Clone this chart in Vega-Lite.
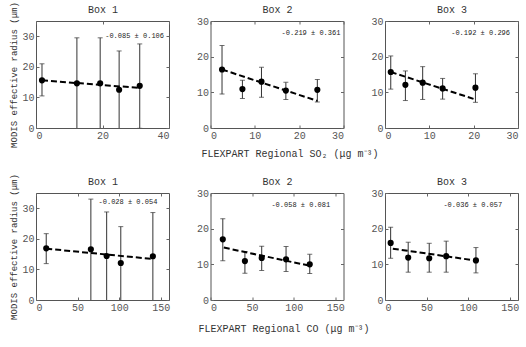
{
"$schema":"https://vega.github.io/schema/vega-lite/v6.json",
"background":"white",
"padding":{"left":9,"top":1,"right":3,"bottom":3},
"spacing":14,
"datasets":{
"pts":[
{"p":"s1","x":1.8,"y":15.6,"lo":10.5,"hi":21.0},
{"p":"s1","x":12.3,"y":14.6,"lo":-0.3,"hi":29.5},
{"p":"s1","x":19.3,"y":14.6,"lo":-0.3,"hi":29.5},
{"p":"s1","x":25.0,"y":12.5,"lo":-0.2,"hi":25.2},
{"p":"s1","x":31.2,"y":13.8,"lo":-0.1,"hi":27.5},
{"p":"s2","x":2.6,"y":16.4,"lo":9.5,"hi":23.1},
{"p":"s2","x":7.2,"y":10.9,"lo":8.3,"hi":13.4},
{"p":"s2","x":11.5,"y":13.0,"lo":8.6,"hi":17.0},
{"p":"s2","x":17.0,"y":10.5,"lo":8.0,"hi":12.8},
{"p":"s2","x":24.1,"y":10.7,"lo":7.3,"hi":13.6},
{"p":"s3","x":1.3,"y":15.7,"lo":10.9,"hi":20.2},
{"p":"s3","x":4.6,"y":12.1,"lo":7.7,"hi":16.0},
{"p":"s3","x":8.5,"y":12.7,"lo":8.0,"hi":17.2},
{"p":"s3","x":13.0,"y":11.1,"lo":8.1,"hi":13.9},
{"p":"s3","x":20.4,"y":11.3,"lo":7.2,"hi":15.2},
{"p":"c1","x":12.3,"y":16.9,"lo":11.9,"hi":21.7},
{"p":"c1","x":66.0,"y":16.6,"lo":-0.2,"hi":33.0},
{"p":"c1","x":85.0,"y":14.4,"lo":-0.2,"hi":28.8},
{"p":"c1","x":102.0,"y":12.1,"lo":-0.2,"hi":24.0},
{"p":"c1","x":140.6,"y":14.3,"lo":-0.2,"hi":28.6},
{"p":"c2","x":14.8,"y":17.0,"lo":11.0,"hi":22.8},
{"p":"c2","x":41.4,"y":10.9,"lo":7.5,"hi":13.6},
{"p":"c2","x":61.6,"y":11.8,"lo":8.3,"hi":15.1},
{"p":"c2","x":90.9,"y":11.4,"lo":8.0,"hi":15.0},
{"p":"c2","x":119.4,"y":10.0,"lo":7.4,"hi":12.8},
{"p":"c3","x":6.8,"y":16.0,"lo":11.7,"hi":20.4},
{"p":"c3","x":27.9,"y":11.9,"lo":7.8,"hi":16.2},
{"p":"c3","x":53.2,"y":11.7,"lo":7.8,"hi":15.9},
{"p":"c3","x":73.6,"y":12.3,"lo":7.8,"hi":16.5},
{"p":"c3","x":109.4,"y":11.1,"lo":7.6,"hi":14.7}
],
"fit":[
{"p":"s1","x":1.8,"y":15.6},{"p":"s1","x":31.2,"y":13.1},
{"p":"s2","x":2.6,"y":16.4},{"p":"s2","x":24.1,"y":7.6},
{"p":"s3","x":1.3,"y":15.7},{"p":"s3","x":20.4,"y":8.0},
{"p":"c1","x":12.3,"y":16.8},{"p":"c1","x":140.6,"y":13.4},
{"p":"c2","x":16.0,"y":14.7},{"p":"c2","x":119.4,"y":9.6},
{"p":"c3","x":9.4,"y":14.4},{"p":"c3","x":111.0,"y":11.0}
],
"ann":[
{"p":"s1","t":"-0.085 ± 0.106"},
{"p":"s2","t":"-0.219 ± 0.361"},
{"p":"s3","t":"-0.192 ± 0.296"},
{"p":"c1","t":"-0.028 ± 0.054"},
{"p":"c2","t":"-0.058 ± 0.081"},
{"p":"c3","t":"-0.036 ± 0.057"}
]
},
"config":{
"font":"Liberation Mono",
"view":{"stroke":"#555","strokeWidth":1},
"axis":{"labelFont":"Liberation Mono","labelFontSize":10,"labelColor":"#555","labelOverlap":false,"titleFont":"Liberation Mono","titleFontSize":10,"titleFontWeight":"normal","titleColor":"#333","domain":false,"grid":false,"tickSize":-3,"tickColor":"#666","labelPadding":5},
"axisTop":{"titleFontSize":10,"titlePadding":6,"labels":false},
"axisRight":{"labels":false}
},
"vconcat":[
{"bounds":"flush","spacing":41.5,"hconcat":[
{"width":133,"height":107,"resolve":{"axis":{"x":"independent","y":"independent"}},"layer":[
{"data":{"name":"pts"},"transform":[{"filter":"datum.p==='s1'"}],"mark":{"type":"rule","color":"#333","strokeWidth":1,"clip":true},"encoding":{"x":{"field":"x","type":"quantitative","scale":{"domain":[0,40]},"axis":{"values":[0,20,40],"title":null}},"y":{"field":"lo","type":"quantitative","scale":{"domain":[0,35]},"axis":{"values":[0,10,20,30],"title":"MODIS effective radius (μm)","titleFontSize":9,"titlePadding":3}},"y2":{"field":"hi"}}},
{"data":{"name":"pts"},"transform":[{"filter":"datum.p==='s1'"},{"fold":["lo","hi"]}],"mark":{"type":"tick","orient":"horizontal","color":"#333","size":5,"thickness":1,"clip":true},"encoding":{"x":{"field":"x","type":"quantitative","axis":{"orient":"top","values":[0,20,40],"title":"Box 1"}},"y":{"field":"value","type":"quantitative","axis":{"orient":"right","values":[0,10,20,30],"title":null}}}},
{"data":{"name":"fit"},"transform":[{"filter":"datum.p==='s1'"}],"mark":{"type":"line","color":"black","strokeWidth":2,"strokeDash":[6,3]},"encoding":{"x":{"field":"x","type":"quantitative","axis":null},"y":{"field":"y","type":"quantitative","axis":null}}},
{"data":{"name":"pts"},"transform":[{"filter":"datum.p==='s1'"}],"mark":{"type":"circle","color":"black","opacity":1,"size":38},"encoding":{"x":{"field":"x","type":"quantitative","axis":null},"y":{"field":"y","type":"quantitative","axis":null}}},
{"data":{"name":"ann"},"transform":[{"filter":"datum.p==='s1'"}],"mark":{"type":"text","align":"right","baseline":"middle","fontSize":7,"color":"#222"},"encoding":{"x":{"datum":38.5,"type":"quantitative","axis":null},"y":{"datum":30,"type":"quantitative","axis":null},"text":{"field":"t"}}}
]},
{"width":133,"height":107,"resolve":{"axis":{"x":"independent","y":"independent"}},"layer":[
{"data":{"name":"pts"},"transform":[{"filter":"datum.p==='s2'"}],"mark":{"type":"rule","color":"#333","strokeWidth":1,"clip":true},"encoding":{"x":{"field":"x","type":"quantitative","scale":{"domain":[0,30]},"axis":{"values":[0,10,20,30],"title":"FLEXPART Regional SO₂ (μg m⁻³)","titlePadding":8,"titleX":79}},"y":{"field":"lo","type":"quantitative","scale":{"domain":[0,30]},"axis":{"values":[0,10,20,30],"title":null}},"y2":{"field":"hi"}}},
{"data":{"name":"pts"},"transform":[{"filter":"datum.p==='s2'"},{"fold":["lo","hi"]}],"mark":{"type":"tick","orient":"horizontal","color":"#333","size":5,"thickness":1,"clip":true},"encoding":{"x":{"field":"x","type":"quantitative","axis":{"orient":"top","values":[0,10,20,30],"title":"Box 2"}},"y":{"field":"value","type":"quantitative","axis":{"orient":"right","values":[0,10,20,30],"title":null}}}},
{"data":{"name":"fit"},"transform":[{"filter":"datum.p==='s2'"}],"mark":{"type":"line","color":"black","strokeWidth":2,"strokeDash":[6,3]},"encoding":{"x":{"field":"x","type":"quantitative","axis":null},"y":{"field":"y","type":"quantitative","axis":null}}},
{"data":{"name":"pts"},"transform":[{"filter":"datum.p==='s2'"}],"mark":{"type":"circle","color":"black","opacity":1,"size":38},"encoding":{"x":{"field":"x","type":"quantitative","axis":null},"y":{"field":"y","type":"quantitative","axis":null}}},
{"data":{"name":"ann"},"transform":[{"filter":"datum.p==='s2'"}],"mark":{"type":"text","align":"right","baseline":"middle","fontSize":7,"color":"#222"},"encoding":{"x":{"datum":29.3,"type":"quantitative","axis":null},"y":{"datum":26.6,"type":"quantitative","axis":null},"text":{"field":"t"}}}
]},
{"width":133,"height":107,"resolve":{"axis":{"x":"independent","y":"independent"}},"layer":[
{"data":{"name":"pts"},"transform":[{"filter":"datum.p==='s3'"}],"mark":{"type":"rule","color":"#333","strokeWidth":1,"clip":true},"encoding":{"x":{"field":"x","type":"quantitative","scale":{"domain":[0,30]},"axis":{"values":[0,10,20,30],"title":null}},"y":{"field":"lo","type":"quantitative","scale":{"domain":[0,30]},"axis":{"values":[0,10,20,30],"title":null}},"y2":{"field":"hi"}}},
{"data":{"name":"pts"},"transform":[{"filter":"datum.p==='s3'"},{"fold":["lo","hi"]}],"mark":{"type":"tick","orient":"horizontal","color":"#333","size":5,"thickness":1,"clip":true},"encoding":{"x":{"field":"x","type":"quantitative","axis":{"orient":"top","values":[0,10,20,30],"title":"Box 3"}},"y":{"field":"value","type":"quantitative","axis":{"orient":"right","values":[0,10,20,30],"title":null}}}},
{"data":{"name":"fit"},"transform":[{"filter":"datum.p==='s3'"}],"mark":{"type":"line","color":"black","strokeWidth":2,"strokeDash":[6,3]},"encoding":{"x":{"field":"x","type":"quantitative","axis":null},"y":{"field":"y","type":"quantitative","axis":null}}},
{"data":{"name":"pts"},"transform":[{"filter":"datum.p==='s3'"}],"mark":{"type":"circle","color":"black","opacity":1,"size":38},"encoding":{"x":{"field":"x","type":"quantitative","axis":null},"y":{"field":"y","type":"quantitative","axis":null}}},
{"data":{"name":"ann"},"transform":[{"filter":"datum.p==='s3'"}],"mark":{"type":"text","align":"right","baseline":"middle","fontSize":7,"color":"#222"},"encoding":{"x":{"datum":28.2,"type":"quantitative","axis":null},"y":{"datum":26.6,"type":"quantitative","axis":null},"text":{"field":"t"}}}
]}
]},
{"bounds":"flush","spacing":41.5,"hconcat":[
{"width":133,"height":107,"resolve":{"axis":{"x":"independent","y":"independent"}},"layer":[
{"data":{"name":"pts"},"transform":[{"filter":"datum.p==='c1'"}],"mark":{"type":"rule","color":"#333","strokeWidth":1,"clip":true},"encoding":{"x":{"field":"x","type":"quantitative","scale":{"domain":[0,150]},"axis":{"values":[0,50,100,150],"title":null}},"y":{"field":"lo","type":"quantitative","scale":{"domain":[0,35]},"axis":{"values":[0,10,20,30],"title":"MODIS effective radius (μm)","titleFontSize":9,"titlePadding":3}},"y2":{"field":"hi"}}},
{"data":{"name":"pts"},"transform":[{"filter":"datum.p==='c1'"},{"fold":["lo","hi"]}],"mark":{"type":"tick","orient":"horizontal","color":"#333","size":5,"thickness":1,"clip":true},"encoding":{"x":{"field":"x","type":"quantitative","axis":{"orient":"top","values":[0,50,100,150],"title":"Box 1"}},"y":{"field":"value","type":"quantitative","axis":{"orient":"right","values":[0,10,20,30],"title":null}}}},
{"data":{"name":"fit"},"transform":[{"filter":"datum.p==='c1'"}],"mark":{"type":"line","color":"black","strokeWidth":2,"strokeDash":[6,3]},"encoding":{"x":{"field":"x","type":"quantitative","axis":null},"y":{"field":"y","type":"quantitative","axis":null}}},
{"data":{"name":"pts"},"transform":[{"filter":"datum.p==='c1'"}],"mark":{"type":"circle","color":"black","opacity":1,"size":38},"encoding":{"x":{"field":"x","type":"quantitative","axis":null},"y":{"field":"y","type":"quantitative","axis":null}}},
{"data":{"name":"ann"},"transform":[{"filter":"datum.p==='c1'"}],"mark":{"type":"text","align":"right","baseline":"middle","fontSize":7,"color":"#222"},"encoding":{"x":{"datum":146,"type":"quantitative","axis":null},"y":{"datum":32,"type":"quantitative","axis":null},"text":{"field":"t"}}}
]},
{"width":133,"height":107,"resolve":{"axis":{"x":"independent","y":"independent"}},"layer":[
{"data":{"name":"pts"},"transform":[{"filter":"datum.p==='c2'"}],"mark":{"type":"rule","color":"#333","strokeWidth":1,"clip":true},"encoding":{"x":{"field":"x","type":"quantitative","scale":{"domain":[0,150]},"axis":{"values":[0,50,100,150],"title":"FLEXPART Regional CO (μg m⁻³)","titlePadding":11,"titleX":73}},"y":{"field":"lo","type":"quantitative","scale":{"domain":[0,30]},"axis":{"values":[0,10,20,30],"title":null}},"y2":{"field":"hi"}}},
{"data":{"name":"pts"},"transform":[{"filter":"datum.p==='c2'"},{"fold":["lo","hi"]}],"mark":{"type":"tick","orient":"horizontal","color":"#333","size":5,"thickness":1,"clip":true},"encoding":{"x":{"field":"x","type":"quantitative","axis":{"orient":"top","values":[0,50,100,150],"title":"Box 2"}},"y":{"field":"value","type":"quantitative","axis":{"orient":"right","values":[0,10,20,30],"title":null}}}},
{"data":{"name":"fit"},"transform":[{"filter":"datum.p==='c2'"}],"mark":{"type":"line","color":"black","strokeWidth":2,"strokeDash":[6,3]},"encoding":{"x":{"field":"x","type":"quantitative","axis":null},"y":{"field":"y","type":"quantitative","axis":null}}},
{"data":{"name":"pts"},"transform":[{"filter":"datum.p==='c2'"}],"mark":{"type":"circle","color":"black","opacity":1,"size":38},"encoding":{"x":{"field":"x","type":"quantitative","axis":null},"y":{"field":"y","type":"quantitative","axis":null}}},
{"data":{"name":"ann"},"transform":[{"filter":"datum.p==='c2'"}],"mark":{"type":"text","align":"right","baseline":"middle","fontSize":7,"color":"#222"},"encoding":{"x":{"datum":144,"type":"quantitative","axis":null},"y":{"datum":26.6,"type":"quantitative","axis":null},"text":{"field":"t"}}}
]},
{"width":133,"height":107,"resolve":{"axis":{"x":"independent","y":"independent"}},"layer":[
{"data":{"name":"pts"},"transform":[{"filter":"datum.p==='c3'"}],"mark":{"type":"rule","color":"#333","strokeWidth":1,"clip":true},"encoding":{"x":{"field":"x","type":"quantitative","scale":{"domain":[0,150]},"axis":{"values":[0,50,100,150],"title":null}},"y":{"field":"lo","type":"quantitative","scale":{"domain":[0,30]},"axis":{"values":[0,10,20,30],"title":null}},"y2":{"field":"hi"}}},
{"data":{"name":"pts"},"transform":[{"filter":"datum.p==='c3'"},{"fold":["lo","hi"]}],"mark":{"type":"tick","orient":"horizontal","color":"#333","size":5,"thickness":1,"clip":true},"encoding":{"x":{"field":"x","type":"quantitative","axis":{"orient":"top","values":[0,50,100,150],"title":"Box 3"}},"y":{"field":"value","type":"quantitative","axis":{"orient":"right","values":[0,10,20,30],"title":null}}}},
{"data":{"name":"fit"},"transform":[{"filter":"datum.p==='c3'"}],"mark":{"type":"line","color":"black","strokeWidth":2,"strokeDash":[6,3]},"encoding":{"x":{"field":"x","type":"quantitative","axis":null},"y":{"field":"y","type":"quantitative","axis":null}}},
{"data":{"name":"pts"},"transform":[{"filter":"datum.p==='c3'"}],"mark":{"type":"circle","color":"black","opacity":1,"size":38},"encoding":{"x":{"field":"x","type":"quantitative","axis":null},"y":{"field":"y","type":"quantitative","axis":null}}},
{"data":{"name":"ann"},"transform":[{"filter":"datum.p==='c3'"}],"mark":{"type":"text","align":"right","baseline":"middle","fontSize":7,"color":"#222"},"encoding":{"x":{"datum":141,"type":"quantitative","axis":null},"y":{"datum":26.7,"type":"quantitative","axis":null},"text":{"field":"t"}}}
]}
]}
]
}
